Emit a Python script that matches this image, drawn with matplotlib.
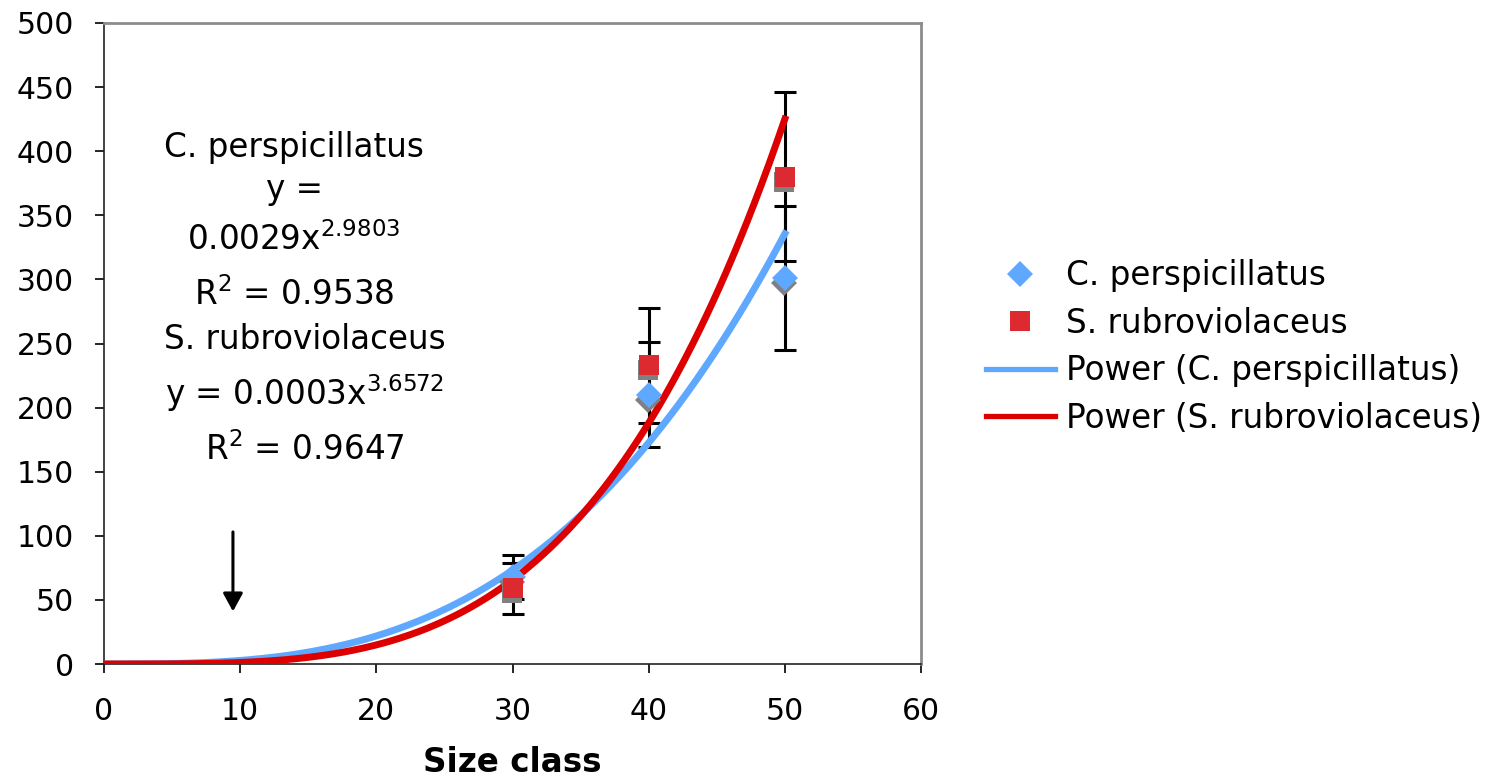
import numpy as np
import matplotlib
matplotlib.use("Agg")
import matplotlib.pyplot as plt
from matplotlib.transforms import offset_copy

plt.rcParams['font.family'] = ['DejaVu Sans']
plt.rcParams['mathtext.default'] = 'regular'

# Data
size_class = [30, 40, 50]
cp_mean = [68, 210, 301]
cp_err = [17, 41, 56]
sr_mean = [59, 233, 380]
sr_err = [20, 45, 66]

# Power trendline coefficients (y = a * x^b)
cp_a, cp_b = 0.0029, 2.9803
sr_a, sr_b = 0.00026, 3.6572
trend_x_max = 50

x_ticks = [0, 10, 20, 30, 40, 50, 60]
y_ticks = [0, 50, 100, 150, 200, 250, 300, 350, 400, 450, 500]

blue = '#5fa8ff'
red = '#dc2a30'
red_line = '#dd0000'

fig = plt.figure(figsize=(15.05, 7.81), dpi=100)
ax = fig.add_axes([104/1505, 1-664/781, (921-104)/1505, (664-23)/781])

xs = np.linspace(0, trend_x_max, 400)
ax.plot(xs, cp_a*xs**cp_b, color=blue, lw=5, zorder=3, label='Power (C. perspicillatus)')
ax.plot(xs, sr_a*xs**sr_b, color=red_line, lw=5, zorder=3, label='Power (S. rubroviolaceus)')

# error bars
ax.errorbar(size_class, cp_mean, yerr=cp_err, fmt='none', ecolor='black',
            elinewidth=2.2, capsize=8, capthick=2.2, zorder=2)
ax.errorbar(size_class, sr_mean, yerr=sr_err, fmt='none', ecolor='black',
            elinewidth=2.2, capsize=8, capthick=2.2, zorder=2)

# shadows
sh = offset_copy(ax.transData, fig=fig, x=-1, y=-5, units='dots')
ax.plot(size_class, cp_mean, 'D', color='#808080', ms=13, mew=0, transform=sh, zorder=4)
ax.plot(size_class, sr_mean, 's', color='#808080', ms=15, mew=0, transform=sh, zorder=4)
ax.plot(size_class, cp_mean, 'D', color=blue, ms=13, mew=0, zorder=5, label='C. perspicillatus')
ax.plot(size_class, sr_mean, 's', color=red, ms=15, mew=0, zorder=5, label='S. rubroviolaceus')

ax.set_xlim(0, 60)
ax.set_ylim(0, 500)
ax.set_xticks(x_ticks)
ax.set_yticks(y_ticks)
ax.tick_params(axis='both', labelsize=21.5, direction='out', length=6.5, width=1.2, color='black')
ax.tick_params(axis='x', pad=17)
ax.tick_params(axis='y', pad=15)
for s in ['left', 'bottom']:
    ax.spines[s].set_color('#222222')
    ax.spines[s].set_linewidth(1.2)
for s in ['top', 'right']:
    ax.spines[s].set_color('#8c8c8c')
    ax.spines[s].set_linewidth(2)

ax.set_xlabel('Size class', fontsize=23.5, fontweight='bold', labelpad=15)

# equations
fs = 23.5
def t(x, y, s):
    fig.text(x/1505, 1-y/781, s, fontsize=fs, ha='center', va='center')
t(294, 147, 'C. perspicillatus')
t(294, 190, 'y =')
t(294, 240, r'0.0029x$^{2.9803}$')
t(294, 295, r'R$^2$ = 0.9538')
t(305, 340, 'S. rubroviolaceus')
t(305, 393, r'y = 0.0003x$^{3.6572}$')
t(305, 450, r'R$^2$ = 0.9647')

# arrow
ax.annotate('', xy=(9.47, 41), xytext=(9.47, 103),
            arrowprops=dict(arrowstyle='-|>,head_width=0.3,head_length=0.55',
                            mutation_scale=20, color='black', lw=2.2, shrinkA=0, shrinkB=0))

handles, labels = ax.get_legend_handles_labels()
order = [2, 3, 0, 1]
leg = fig.legend([handles[i] for i in order], [labels[i] for i in order],
                 loc='center left', bbox_to_anchor=(986/1505, 1-347/781),
                 fontsize=23.5, frameon=False, handlelength=2.1, handletextpad=0.36,
                 labelspacing=0.44, borderaxespad=0, borderpad=0)
for line in leg.get_lines():
    line.set_linewidth(3.8)

fig.savefig('out.png', dpi=100)
